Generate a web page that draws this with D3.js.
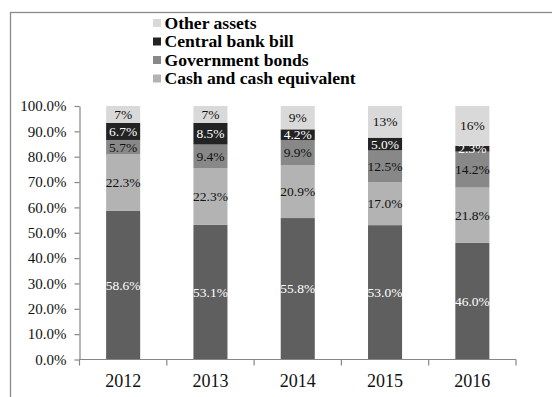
<!DOCTYPE html>
<html>
<head>
<meta charset="utf-8">
<script src="https://cdn.jsdelivr.net/npm/d3@7"></script>
<style>
html,body{margin:0;padding:0;background:#fff;}
svg{display:block;}
svg text{font-family:"Liberation Serif","Times New Roman",serif !important;}
</style>
</head>
<body>
<svg id="chart" width="552" height="397"></svg>
<script>
// ---- data ----
const years = ["2012", "2013", "2014", "2015", "2016"];
const seriesNames = ["Unlabelled", "Cash and cash equivalent", "Government bonds", "Central bank bill", "Other assets"];
const bottomSeries = [58.6, 53.1, 55.8, 53.0, 46.0];
const cashEquivalent = [22.3, 22.3, 20.9, 17.0, 21.8];
const governmentBonds = [5.7, 9.4, 9.9, 12.5, 14.2];
const centralBankBill = [6.7, 8.5, 4.2, 5.0, 2.3];
const otherAssets = [6.7, 6.7, 9.2, 12.5, 15.7];
const yTicks = [0, 0.1, 0.2, 0.3, 0.4, 0.5, 0.6, 0.7, 0.8, 0.9, 1.0];
const legendSeries = ["Other assets", "Central bank bill", "Government bonds", "Cash and cash equivalent"];

// ---- styles ----
const FONT = "'Liberation Serif', 'Times New Roman', serif";
const colors = {
  "Unlabelled": "#5f5f5f",
  "Cash and cash equivalent": "#b3b3b3",
  "Government bonds": "#888888",
  "Central bank bill": "#232323",
  "Other assets": "#d9d9d9"
};
const labelColors = {
  "Unlabelled": "#ffffff",
  "Cash and cash equivalent": "#111111",
  "Government bonds": "#111111",
  "Central bank bill": "#ffffff",
  "Other assets": "#111111"
};
const axisColor = "#868686";

const valuesBySeries = [bottomSeries, cashEquivalent, governmentBonds, centralBankBill, otherAssets];
const table = years.map((yr, i) => {
  const row = { year: yr };
  seriesNames.forEach((s, k) => row[s] = valuesBySeries[k][i]);
  return row;
});

const svg = d3.select("#chart").style("font-family", FONT);

// frame
svg.append("rect")
  .attr("x", 10.5).attr("y", 12.5)
  .attr("width", 700).attr("height", 500)
  .attr("fill", "none").attr("stroke", "#8a8a8a").attr("stroke-width", 1.3);

const plotLeft = 79.5, plotRight = 516, plotTop = 106, plotBottom = 359.5;

const x = d3.scaleBand().domain(years).range([plotLeft, plotRight])
  .paddingInner(0.61).paddingOuter(0.305);
const y = d3.scaleLinear().domain([0, 100]).range([plotBottom, plotTop]);
const yPct = d3.scaleLinear().domain([0, 1]).range([plotBottom, plotTop]);

const stacked = d3.stack().keys(seriesNames)(table);

// bars
const g = svg.append("g");
stacked.forEach(layer => {
  const key = layer.key;
  g.selectAll(null).data(layer).enter().append("rect")
    .attr("x", d => x(d.data.year))
    .attr("width", x.bandwidth())
    .attr("y", d => y(d[1]))
    .attr("height", d => y(d[0]) - y(d[1]))
    .attr("fill", colors[key]);
});

// data labels
const fmt1 = d3.format(".1f");
const fmt0 = d3.format(".0f");
stacked.forEach(layer => {
  const key = layer.key;
  g.selectAll(null).data(layer).enter().append("text")
    .attr("x", d => x(d.data.year) + x.bandwidth() / 2)
    .attr("y", d => (y(d[0]) + y(d[1])) / 2)
    .attr("text-anchor", "middle")
    .attr("dy", "0.34em")
    .style("font-family", FONT)
    .attr("font-size", 13.5)
    .attr("fill", labelColors[key])
    .text(d => (key === "Other assets" ? fmt0(d.data[key]) : fmt1(d.data[key])) + "%");
});

// y axis
const yAxis = d3.axisLeft(yPct).tickValues(yTicks).tickFormat(d3.format(".1%"))
  .tickSize(5).tickPadding(8).tickSizeOuter(0);
const ya = svg.append("g").attr("transform", `translate(${plotLeft},0)`).call(yAxis);
ya.attr("font-family", null).style("font-family", FONT);
ya.select(".domain").attr("stroke", axisColor).attr("stroke-width", 1.2);
ya.selectAll(".tick line").attr("stroke", axisColor).attr("stroke-width", 1.2);
ya.selectAll(".tick text").style("font-family", FONT).attr("font-size", 15).attr("fill", "#111");

// x axis line and boundary ticks
svg.append("line")
  .attr("x1", plotLeft).attr("x2", plotRight).attr("y1", plotBottom).attr("y2", plotBottom)
  .attr("stroke", axisColor).attr("stroke-width", 1.2);
const boundaries = d3.range(years.length + 1).map(i => plotLeft + x.step() * i);
svg.selectAll(null).data(boundaries).enter().append("line")
  .attr("x1", d => d).attr("x2", d => d)
  .attr("y1", plotBottom).attr("y2", plotBottom + 6)
  .attr("stroke", axisColor).attr("stroke-width", 1.2);

// x labels
svg.selectAll(null).data(years).enter().append("text")
  .attr("x", d => x(d) + x.bandwidth() / 2)
  .attr("y", 387)
  .attr("text-anchor", "middle")
  .style("font-family", FONT)
  .attr("font-size", 18)
  .attr("fill", "#111")
  .text(d => d);

// legend
const lg = svg.append("g");
legendSeries.forEach((s, i) => {
  const cy = 23 + i * 18.5;
  lg.append("rect").attr("x", 153).attr("y", cy - 4).attr("width", 8).attr("height", 8).attr("fill", colors[s]);
  lg.append("text").attr("x", 164.5).attr("y", cy).attr("dy", "0.34em")
    .style("font-family", FONT)
    .attr("font-size", 17.6).attr("font-weight", "bold").attr("fill", "#000")
    .text(s);
});
</script>
</body>
</html>
